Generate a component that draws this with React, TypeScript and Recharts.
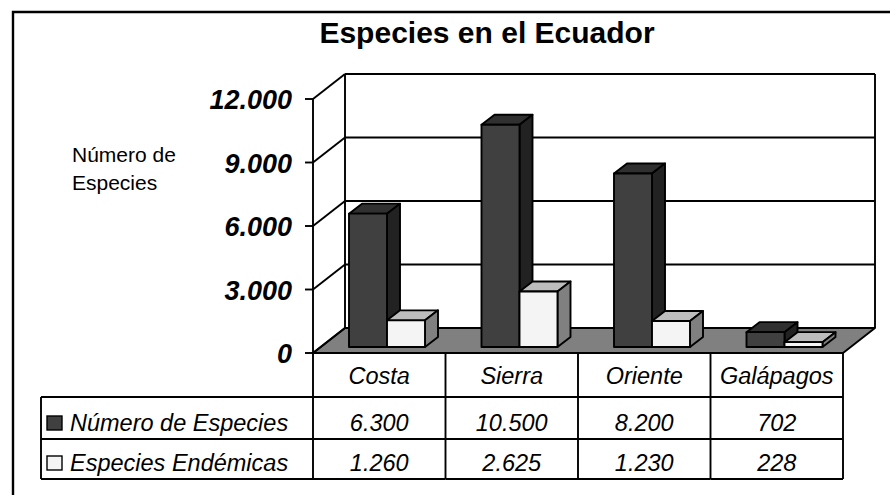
import { BarChart, Bar, XAxis, YAxis, CartesianGrid } from "recharts";

const categories = ["Costa", "Sierra", "Oriente", "Galápagos"];
const numeroEspecies = [6300, 10500, 8200, 702];
const especiesEndemicas = [1260, 2625, 1230, 228];
const seriesNames = ["Número de Especies", "Especies Endémicas"];
const yTicks = [0, 3000, 6000, 9000, 12000];

const data = categories.map((name, i) => ({
  name,
  numero: numeroEspecies[i],
  endemicas: especiesEndemicas[i],
}));

const W = 890;
const H = 495;
const MARGIN = { top: 99, right: 47, left: 0, bottom: 0 };
const Y_AXIS_W = 313;
const X_AXIS_H = 142;
const PLOT_TOP = MARGIN.top;
const PLOT_BOTTOM = H - X_AXIS_H;
const HALF_BAND = (W - MARGIN.left - MARGIN.right - Y_AXIS_W) / categories.length / 2;

// depth of the box (back wall) and of each bar
const DEPTH_X = 32;
const DEPTH_Y = -25;
const BAR_OFF_X = 8;
const BAR_OFF_Y = -6;
const BAR_DX = 13;
const BAR_DY = -10;

const ROW1 = 397;
const ROW2 = 439;
const ROW_END = 479;
const TABLE_LEFT = 41;

const FONT = "'Liberation Sans', Arial, Helvetica, sans-serif";
const LINE = { stroke: "#000", strokeWidth: 1.9 };

const DARK = { front: "#404040", top: "#303030", side: "#222222" };
const LIGHT = { front: "#f4f4f4", top: "#bdbdbd", side: "#808080" };

const fmt = (v: number) => String(v).replace(/\B(?=(\d{3})+(?!\d))/g, ".");

function GridLine(props: any) {
  const { x1, y1, x2 } = props;
  const top = props.y ?? PLOT_TOP;
  const bottom = top + (props.height ?? PLOT_BOTTOM - PLOT_TOP);
  const isBottom = Math.abs(y1 - bottom) < 0.5;
  const isTop = Math.abs(y1 - top) < 0.5;
  return (
    <g>
      {isBottom && (
        <polygon
          points={`${x1},${y1} ${x2},${y1} ${x2 + DEPTH_X},${y1 + DEPTH_Y} ${x1 + DEPTH_X},${y1 + DEPTH_Y}`}
          fill="#808080"
          {...LINE}
          strokeLinejoin="round"
        />
      )}
      {isTop && (
        <>
          <line x1={x1 + DEPTH_X} y1={y1 + DEPTH_Y} x2={x1 + DEPTH_X} y2={bottom + DEPTH_Y} {...LINE} />
          <line x1={x2 + DEPTH_X} y1={y1 + DEPTH_Y} x2={x2 + DEPTH_X} y2={bottom + DEPTH_Y} {...LINE} />
        </>
      )}
      <line x1={x1 + DEPTH_X} y1={y1 + DEPTH_Y} x2={x2 + DEPTH_X} y2={y1 + DEPTH_Y} {...LINE} />
      <line x1={x1} y1={y1} x2={x1 + DEPTH_X} y2={y1 + DEPTH_Y} {...LINE} />
    </g>
  );
}

function box(colors: typeof DARK) {
  return (props: any) => {
    const { x, y, width, height } = props;
    if (height == null || width == null) return <g />;
    const fx = x + BAR_OFF_X;
    const fy = y + BAR_OFF_Y;
    return (
      <g strokeLinejoin="round">
        <polygon
          points={`${fx},${fy} ${fx + BAR_DX},${fy + BAR_DY} ${fx + width + BAR_DX},${fy + BAR_DY} ${fx + width},${fy}`}
          fill={colors.top}
          {...LINE}
        />
        <polygon
          points={`${fx + width},${fy} ${fx + width + BAR_DX},${fy + BAR_DY} ${fx + width + BAR_DX},${fy + height + BAR_DY} ${fx + width},${fy + height}`}
          fill={colors.side}
          {...LINE}
        />
        <rect x={fx} y={fy} width={width} height={height} fill={colors.front} {...LINE} />
      </g>
    );
  };
}

function YTick(props: any) {
  const { x, y, payload } = props;
  return (
    <text
      x={x - 11}
      y={y + 10}
      textAnchor="end"
      fontFamily={FONT}
      fontSize={27}
      fontWeight="bold"
      fontStyle="italic"
      fill="#000"
    >
      {fmt(payload.value)}
    </text>
  );
}

function TableTick(props: any) {
  const { x, payload } = props;
  const i = payload.index ?? categories.indexOf(payload.value);
  const left = x - HALF_BAND;
  const right = x + HALF_BAND;
  const top = PLOT_BOTTOM;
  const textProps = { fontFamily: FONT, fontSize: 23.5, fontStyle: "italic", fill: "#000" };
  return (
    <g>
      <line x1={right} y1={top} x2={right} y2={ROW_END} {...LINE} />
      <line x1={left} y1={ROW1} x2={right} y2={ROW1} {...LINE} />
      <line x1={left} y1={ROW2} x2={right} y2={ROW2} {...LINE} />
      <line x1={left} y1={ROW_END} x2={right} y2={ROW_END} {...LINE} />
      {i === 0 && (
        <g>
          <line x1={left} y1={top} x2={left} y2={ROW_END} {...LINE} />
          <line x1={TABLE_LEFT} y1={ROW1} x2={left} y2={ROW1} {...LINE} />
          <line x1={TABLE_LEFT} y1={ROW2} x2={left} y2={ROW2} {...LINE} />
          <line x1={TABLE_LEFT} y1={ROW_END} x2={left} y2={ROW_END} {...LINE} />
          <line x1={TABLE_LEFT} y1={ROW1} x2={TABLE_LEFT} y2={ROW_END} {...LINE} />
          <rect x={47} y={416} width={15} height={14} fill={DARK.front} stroke="#000" strokeWidth={1.4} />
          <text x={70} y={431} {...textProps}>{seriesNames[0]}</text>
          <rect x={47} y={456} width={15} height={14} fill={LIGHT.front} stroke="#000" strokeWidth={1.4} />
          <text x={70} y={471} {...textProps}>{seriesNames[1]}</text>
        </g>
      )}
      <text x={x} y={384} textAnchor="middle" {...textProps}>{categories[i]}</text>
      <text x={x} y={431} textAnchor="middle" {...textProps}>{fmt(numeroEspecies[i])}</text>
      <text x={x} y={471} textAnchor="middle" {...textProps}>{fmt(especiesEndemicas[i])}</text>
    </g>
  );
}

export default function App() {
  return (
    <div style={{ position: "absolute", left: 0, top: 0, width: W, height: H, background: "#fff" }}>
      <BarChart width={W} height={H} data={data} margin={MARGIN} barGap={0} barSize={38}>
        <CartesianGrid vertical={false} horizontal={(p: any) => <GridLine key={p.key} {...p} />} />
        <XAxis
          dataKey="name"
          height={X_AXIS_H}
          axisLine={LINE}
          tickLine={false}
          tickSize={0}
          tickMargin={0}
          interval={0}
          tick={<TableTick />}
        />
        <YAxis
          width={Y_AXIS_W}
          domain={[0, 12000]}
          ticks={yTicks}
          axisLine={LINE}
          tickLine={LINE}
          tickSize={8}
          tick={<YTick />}
        />
        <Bar dataKey="numero" name={seriesNames[0]} fill={DARK.front} shape={box(DARK)} isAnimationActive={false} />
        <Bar dataKey="endemicas" name={seriesNames[1]} fill={LIGHT.front} shape={box(LIGHT)} isAnimationActive={false} />
      </BarChart>
      <svg
        width={W}
        height={H}
        style={{ position: "absolute", left: 0, top: 0, pointerEvents: "none" }}
      >
        <polyline points={`${W},12 13,12 13,${H}`} fill="none" stroke="#000" strokeWidth={2.4} />
        <text x={487} y={43} textAnchor="middle" fontFamily={FONT} fontSize={30} fontWeight="bold" fill="#000">
          Especies en el Ecuador
        </text>
        <text x={72} y={162} fontFamily={FONT} fontSize={21} fill="#000">Número de</text>
        <text x={72} y={190} fontFamily={FONT} fontSize={21} fill="#000">Especies</text>
      </svg>
    </div>
  );
}
